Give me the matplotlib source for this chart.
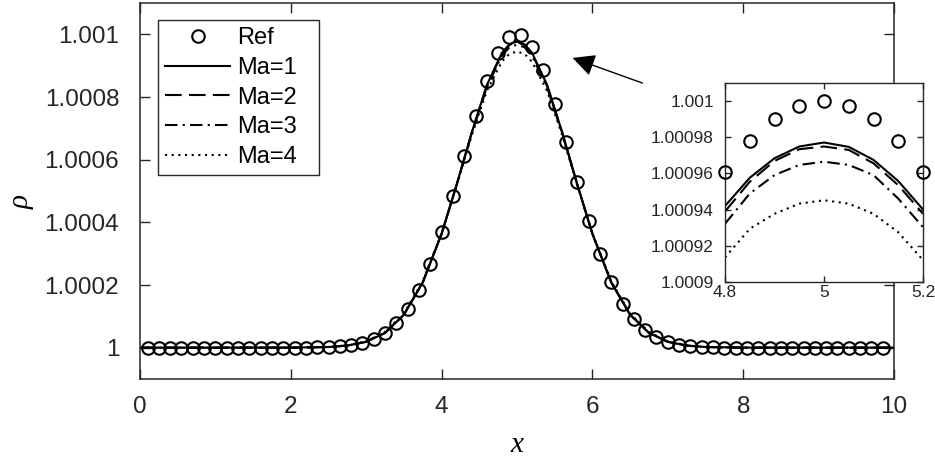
import matplotlib
matplotlib.use("Agg")
import matplotlib.pyplot as plt
from matplotlib.ticker import FuncFormatter, FixedLocator

# ---------------- data (density perturbation, rho - 1, in units of 1e-3) ----------------
x_ref = [0.1, 0.25, 0.4, 0.55, 0.7, 0.85, 1.0, 1.15, 1.3, 1.45, 1.6, 1.75, 1.9,
         2.05, 2.2, 2.35, 2.5, 2.65, 2.8, 2.95, 3.1, 3.25, 3.4, 3.55, 3.7, 3.85,
         4.0, 4.15, 4.3, 4.45, 4.6, 4.75, 4.9, 5.05, 5.2, 5.35, 5.5, 5.65, 5.8,
         5.95, 6.1, 6.25, 6.4, 6.55, 6.7, 6.85, 7.0, 7.15, 7.3, 7.45, 7.6, 7.75,
         7.9, 8.05, 8.2, 8.35, 8.5, 8.65, 8.8, 8.95, 9.1, 9.25, 9.4, 9.55, 9.7, 9.85]
ref_drho = [0, 0, 0, 0, 0, 0, 0, 0, 0, 0, 0, 0, 0,
            0.0002, 0.0004, 0.0009, 0.0019, 0.0040, 0.0079, 0.0150, 0.0271, 0.0468,
            0.0773, 0.1222, 0.1845, 0.2665, 0.3679, 0.4855, 0.6126, 0.7390, 0.8521,
            0.9394, 0.9901, 0.9975, 0.9608, 0.8847, 0.7788, 0.6554, 0.5273, 0.4056,
            0.2982, 0.2096, 0.1409, 0.0905, 0.0556, 0.0326, 0.0183, 0.0098, 0.0050,
            0.0025, 0.0012, 0.0005, 0.0002,
            0, 0, 0, 0, 0, 0, 0, 0, 0, 0, 0, 0, 0]

x_line = [0, 1, 2, 2.5, 2.75, 3, 3.25, 3.5, 3.75, 4, 4.2, 4.4, 4.6, 4.8, 4.9, 5.0,
          5.1, 5.2, 5.4, 5.6, 5.8, 6, 6.25, 6.5, 6.75, 7, 7.25, 7.5, 8, 9, 10]
ma1_drho = [0, 0, 0.0001, 0.0020, 0.0065, 0.0186, 0.0470, 0.1050, 0.2080, 0.3640,
            0.5210, 0.6870, 0.8380, 0.9410, 0.9680, 0.9770, 0.9680, 0.9410, 0.8380,
            0.6870, 0.5210, 0.3640, 0.2080, 0.1050, 0.0470, 0.0186, 0.0065, 0.0020,
            0.0001, 0, 0]
ma2_drho = [0, 0, 0.0001, 0.0021, 0.0066, 0.0187, 0.0470, 0.1050, 0.2080, 0.3630,
            0.5200, 0.6860, 0.8360, 0.9390, 0.9665, 0.9750, 0.9660, 0.9380, 0.8350,
            0.6860, 0.5200, 0.3630, 0.2080, 0.1050, 0.0470, 0.0187, 0.0066, 0.0021,
            0.0001, 0, 0]
ma3_drho = [0, 0, 0.0002, 0.0022, 0.0069, 0.0192, 0.0480, 0.1060, 0.2090, 0.3630,
            0.5190, 0.6830, 0.8310, 0.9320, 0.9590, 0.9665, 0.9590, 0.9305, 0.8300,
            0.6830, 0.5190, 0.3630, 0.2090, 0.1060, 0.0480, 0.0192, 0.0069, 0.0022,
            0.0002, 0, 0]
ma4_drho = [0, 0, 0.0002, 0.0025, 0.0075, 0.0205, 0.0500, 0.1090, 0.2120, 0.3650,
            0.5180, 0.6780, 0.8200, 0.9136, 0.9377, 0.9452, 0.9377, 0.9121, 0.8190,
            0.6780, 0.5180, 0.3650, 0.2120, 0.1090, 0.0500, 0.0205, 0.0075, 0.0025,
            0.0002, 0, 0]

# zoomed region (inset)
x_zoom = [4.8, 4.85, 4.9, 4.95, 5.0, 5.05, 5.1, 5.15, 5.2]
ref_zoom = [0.9606, 0.9778, 0.9900, 0.9975, 1.0000, 0.9975, 0.9900, 0.9778, 0.9606]
ma1_zoom = [0.9420, 0.9576, 0.9684, 0.9749, 0.9771, 0.9747, 0.9675, 0.9558, 0.9401]
ma2_zoom = [0.9390, 0.9554, 0.9669, 0.9734, 0.9749, 0.9730, 0.9656, 0.9535, 0.9377]
ma3_zoom = [0.9322, 0.9489, 0.9591, 0.9647, 0.9665, 0.9647, 0.9591, 0.9461, 0.9303]
ma4_zoom = [0.9136, 0.9294, 0.9377, 0.9433, 0.9452, 0.9433, 0.9377, 0.9275, 0.9121]

labels = ["Ref", "Ma=1", "Ma=2", "Ma=3", "Ma=4"]
x_ticks = [0, 2, 4, 6, 8, 10]
y_ticks = [1.0, 1.0002, 1.0004, 1.0006, 1.0008, 1.001]
zoom_x_ticks = [4.8, 5.0, 5.2]
zoom_y_ticks = [1.0009, 1.00092, 1.00094, 1.00096, 1.00098, 1.001]


def rho(v):
    return [1.0 + d * 1e-3 for d in v]


# ---------------- styling ----------------
plt.rcParams["font.family"] = ["Liberation Sans", "DejaVu Sans"]
grey = "#262626"
line_styles = ["-", (0, (8, 3.5)), (0, (6, 2.5, 1, 2.5)), (0, (1, 2.2))]
lw = 1.5
serif = ["Liberation Serif", "DejaVu Serif"]

fig = plt.figure(figsize=(9.35, 4.58), dpi=100)
ax = fig.add_axes([140 / 935, 1 - 379 / 458, 754 / 935, 376 / 458])

ax.plot(x_ref, rho(ref_drho), linestyle="none", marker="o", markersize=9,
        markerfacecolor="none", markeredgecolor="black", markeredgewidth=1.5,
        label=labels[0], zorder=3)
for vals, ls, lab in zip([ma1_drho, ma2_drho, ma3_drho, ma4_drho], line_styles, labels[1:]):
    ax.plot(x_line, rho(vals), color="black", linestyle=ls, linewidth=lw, label=lab)

ax.set_xlim(0, 10)
ax.set_ylim(0.9999, 1.0011)
ax.xaxis.set_major_locator(FixedLocator(x_ticks))
ax.yaxis.set_major_locator(FixedLocator(y_ticks))
fmt = FuncFormatter(lambda v, p: "%.6g" % v)
ax.xaxis.set_major_formatter(fmt)
ax.yaxis.set_major_formatter(fmt)
ax.tick_params(direction="in", length=7, width=1.0, colors=grey, labelsize=17.5,
               top=True, right=True)
ax.tick_params(axis="x", pad=12)
ax.tick_params(axis="y", pad=15)
for s in ax.spines.values():
    s.set_color(grey)
    s.set_linewidth(1.1)

ax.set_xlabel("x", family=serif, style="italic", fontsize=21)
ax.set_ylabel("ρ", family=serif, style="italic", fontsize=21)
ax.xaxis.set_label_coords(0.5, -(445 - 379) / 376, transform=ax.transAxes)
ax.yaxis.set_label_coords(-(140 - 22) / 754, 1 - (202 - 3) / 376, transform=ax.transAxes)
ax.xaxis.label.set_va("center")
ax.yaxis.label.set_va("center")

leg = ax.legend(loc="upper left", bbox_to_anchor=(18 / 754, 0.0, 161 / 754, 1 - 17 / 376),
                mode="expand", fontsize=17, frameon=True, fancybox=False,
                framealpha=1, edgecolor=grey, handlelength=2.75, handletextpad=0.3,
                borderpad=0.3, labelspacing=0.33, borderaxespad=0)
leg.get_frame().set_linewidth(1.0)

# arrow pointing to the peak
fig.patches.append(matplotlib.patches.FancyArrowPatch(
    (645 / 935, 1 - 84 / 458), (570 / 935, 1 - 57 / 458),
    transform=fig.transFigure, arrowstyle="-|>,head_length=8,head_width=4",
    mutation_scale=1.7, color="black", linewidth=1.0))

# ---------------- inset ----------------
axi = fig.add_axes([725 / 935, 1 - 282 / 458, 198 / 935, 199 / 458])
axi.plot(x_zoom, rho(ref_zoom), linestyle="none", marker="o", markersize=9,
         markerfacecolor="none", markeredgecolor="black", markeredgewidth=1.5,
         clip_on=False, zorder=3)
for vals, ls in zip([ma1_zoom, ma2_zoom, ma3_zoom, ma4_zoom], line_styles):
    axi.plot(x_zoom, rho(vals), color="black", linestyle=ls, linewidth=lw)
axi.set_xlim(4.8, 5.2)
axi.set_ylim(1.0009, 1.00101)
axi.xaxis.set_major_locator(FixedLocator(zoom_x_ticks))
axi.yaxis.set_major_locator(FixedLocator(zoom_y_ticks))
axi.xaxis.set_major_formatter(fmt)
axi.yaxis.set_major_formatter(fmt)
axi.tick_params(direction="in", length=4, width=1.0, colors=grey, labelsize=12.5,
                top=True, right=True)
axi.tick_params(axis="x", pad=2)
axi.tick_params(axis="y", pad=8)
for s in axi.spines.values():
    s.set_color(grey)
    s.set_linewidth(1.0)

fig.savefig("out.png", dpi=100)
